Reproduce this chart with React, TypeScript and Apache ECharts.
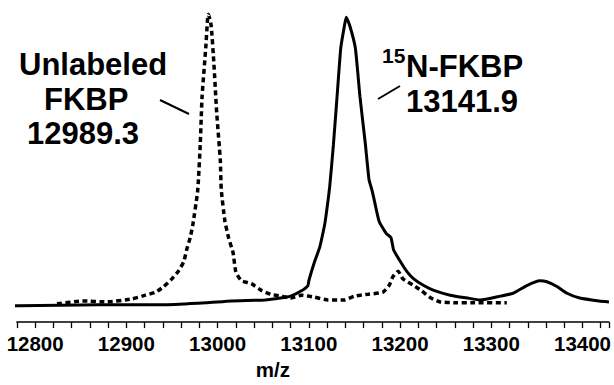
import React, { useEffect, useRef } from "react";
import * as echarts from "echarts";

// Unlabeled FKBP spectrum (dashed): [m/z, intensity]
const unlabeledMz = [12824, 12852, 12878, 12906, 12921, 12932, 12941, 12950, 12957, 12963, 12966, 12970, 12973, 12978, 12979, 12981, 12983, 12987, 12989, 12990, 12993, 12996, 12999, 13003, 13004, 13008, 13012, 13017, 13020, 13026, 13037, 13048, 13058, 13069, 13080, 13092, 13106, 13121, 13139, 13150, 13165, 13181, 13188, 13192, 13198, 13203, 13215, 13223, 13234, 13244, 13263, 13280, 13317];
const unlabeledI = [19, 22, 21, 24, 28, 31, 37, 45, 53, 63, 75, 88, 102, 135, 148, 185, 235, 285, 315, 320, 308, 268, 218, 168, 138, 105, 88, 72, 52, 43, 40, 33, 29, 27, 25, 28, 26, 23, 23, 27, 29, 31, 38, 47, 53, 45, 38, 33, 25, 21, 20, 20, 20];

// 15N-FKBP spectrum (solid): [m/z, intensity]
const labeledMz = [12777, 12783, 12870, 12943, 12987, 13015, 13052, 13069, 13080, 13091, 13099, 13100, 13106, 13112, 13116, 13118, 13123, 13127, 13131, 13135, 13139, 13141, 13145, 13151, 13156, 13162, 13166, 13169, 13171, 13177, 13185, 13190, 13193, 13201, 13208, 13215, 13226, 13237, 13255, 13274, 13288, 13310, 13324, 13339, 13353, 13361, 13372, 13383, 13397, 13418, 13429];
const labeledI = [17, 17, 18, 18, 20, 22, 23, 25, 27, 32, 38, 43, 62, 78, 95, 105, 142, 185, 235, 285, 308, 317, 308, 285, 235, 185, 148, 138, 130, 105, 92, 88, 75, 62, 52, 45, 38, 33, 28, 25, 23, 27, 30, 38, 43, 42, 37, 30, 25, 22, 21];

const xMin = 12780;
const xMax = 13429;
const xStep = 20;
const labelStep = 100;

const FONT = '"Liberation Sans", Arial, Helvetica, sans-serif';

export default function App() {
  const ref = useRef<HTMLDivElement>(null);
  useEffect(() => {
    if (!ref.current) return;
    const chart = echarts.init(ref.current, undefined, { renderer: "svg" });
    const txt = (text: string, x: number, y: number, size: number) => ({
      type: "text",
      x,
      y,
      style: {
        text,
        fill: "#000",
        fontFamily: FONT,
        fontWeight: "bold",
        fontSize: size,
        textAlign: "left",
        textVerticalAlign: "middle",
      },
    });
    chart.setOption({
      animation: false,
      backgroundColor: "#fff",
      grid: { left: 16.9, right: 0, top: 0, bottom: 50, containLabel: false },
      xAxis: {
        type: "value",
        min: xMin,
        max: xMax,
        interval: xStep,
        name: "m/z",
        nameLocation: "middle",
        nameGap: 32,
        nameTextStyle: {
          color: "#000",
          fontFamily: FONT,
          fontWeight: "bold",
          fontSize: 20.5,
          padding: [0, 80, 0, 0],
        },
        axisLine: { show: true, onZero: false, lineStyle: { color: "#000", width: 1.5 } },
        axisTick: { show: true, inside: false, length: 6, lineStyle: { color: "#000", width: 1.3 } },
        splitLine: { show: false },
        axisLabel: {
          color: "#000",
          fontFamily: FONT,
          fontWeight: "bold",
          fontSize: 20.5,
          margin: 11,
          showMinLabel: true,
          showMaxLabel: true,
          formatter: (v: number) => (Math.round(v) % labelStep === 0 ? String(Math.round(v)) : ""),
        },
      },
      yAxis: {
        type: "value",
        min: 0,
        max: 335,
        show: false,
        splitLine: { show: false },
      },
      series: [
        {
          name: "Unlabeled FKBP",
          type: "line",
          showSymbol: false,
          smooth: 0.15,
          data: unlabeledMz.map((m, i) => [m, unlabeledI[i]]),
          lineStyle: { color: "#000", width: 3.5, type: [5, 3.5] },
          z: 2,
        },
        {
          name: "15N-FKBP",
          type: "line",
          showSymbol: false,
          smooth: 0.15,
          data: labeledMz.map((m, i) => [m, labeledI[i]]),
          lineStyle: { color: "#000", width: 3, type: "solid" },
          z: 3,
        },
      ],
      graphic: [
        txt("Unlabeled", 19, 64.5, 31),
        txt("FKBP", 44, 99, 31),
        txt("12989.3", 27, 133.5, 31),
        {
          type: "line",
          shape: { x1: 160, y1: 100, x2: 189, y2: 114 },
          style: { stroke: "#000", lineWidth: 2 },
        },
        txt("15", 382, 55, 21),
        txt("N-FKBP", 406, 66.5, 31),
        txt("13141.9", 406, 101.5, 31),
        {
          type: "line",
          shape: { x1: 378, y1: 99, x2: 400, y2: 86 },
          style: { stroke: "#000", lineWidth: 2 },
        },
      ],
    });
    return () => chart.dispose();
  }, []);
  return (
    <div
      ref={ref}
      style={{ position: "fixed", left: 0, top: 0, width: 614, height: 385, background: "#fff" }}
    />
  );
}
